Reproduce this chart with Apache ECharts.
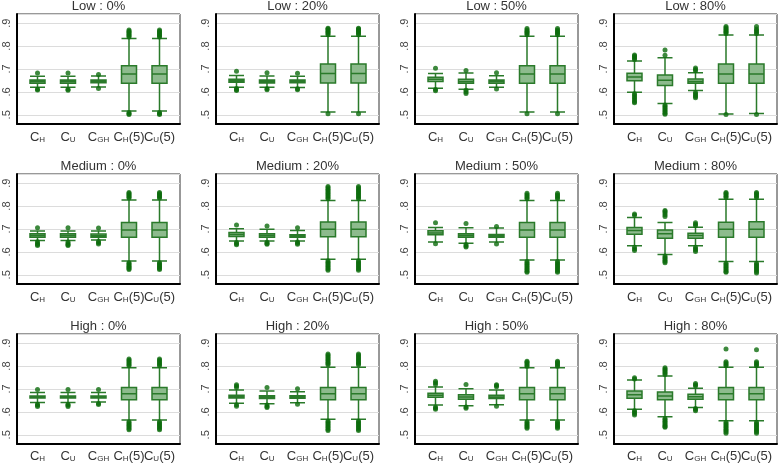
<!DOCTYPE html>
<html><head><meta charset="utf-8">
<script src="https://cdn.jsdelivr.net/npm/echarts@6/dist/echarts.min.js"></script>
<style>html,body{margin:0;padding:0;background:#fff}#c{width:778px;height:463px}</style>
</head><body><div id="c"></div>
<script>
// ---------------- data ----------------
const categories = ['C{s|H}', 'C{s|U}', 'C{s|GH}', 'C{s|H}(5)', 'C{s|U}(5)'];
const panelTitles = ['Low : 0%', 'Low : 20%', 'Low : 50%', 'Low : 80%',
  'Medium : 0%', 'Medium : 20%', 'Medium : 50%', 'Medium : 80%',
  'High : 0%', 'High : 20%', 'High : 50%', 'High : 80%'];
const yTicks = [0.5, 0.6, 0.7, 0.8, 0.9];

// box stats: [lower whisker, Q1, median, Q3, upper whisker]
const boxLow0 = [[0.620,0.638,0.645,0.652,0.668],[0.620,0.638,0.645,0.652,0.668],[0.622,0.640,0.646,0.652,0.670],[0.517,0.638,0.678,0.714,0.833],[0.517,0.638,0.678,0.714,0.833]];
const outLow0 = [[0.683,0.612,0.608],[0.683,0.612,0.607],[0.676,0.615],[0.840,0.845,0.850,0.855,0.860,0.865,0.870,0.510,0.505,0.502],[0.840,0.845,0.850,0.855,0.860,0.865,0.870,0.510,0.505,0.502]];

const boxLow20 = [[0.620,0.642,0.649,0.655,0.672],[0.620,0.639,0.646,0.652,0.670],[0.619,0.640,0.646,0.652,0.668],[0.512,0.639,0.680,0.722,0.843],[0.512,0.639,0.680,0.722,0.843]];
const outLow20 = [[0.690,0.615,0.610,0.606],[0.684,0.614,0.609],[0.681,0.614,0.610],[0.850,0.855,0.860,0.865,0.870,0.875,0.878,0.505],[0.850,0.855,0.860,0.865,0.870,0.875,0.878,0.505]];

const boxLow50 = [[0.616,0.645,0.655,0.664,0.680],[0.612,0.638,0.646,0.655,0.683],[0.620,0.638,0.645,0.652,0.671],[0.512,0.638,0.678,0.714,0.843],[0.512,0.638,0.678,0.714,0.843]];
const outLow50 = [[0.703,0.611,0.605],[0.694,0.607,0.600,0.593],[0.684,0.613],[0.850,0.855,0.860,0.865,0.870,0.877,0.505],[0.850,0.855,0.860,0.865,0.870,0.877,0.505]];

const boxLow80 = [[0.599,0.649,0.665,0.681,0.735],[0.549,0.628,0.651,0.674,0.749],[0.606,0.638,0.646,0.656,0.684],[0.504,0.638,0.678,0.722,0.848],[0.506,0.638,0.678,0.722,0.848]];
const outLow80 = [[0.742,0.747,0.752,0.757,0.761,0.592,0.585,0.578,0.571,0.564,0.557,0.553],[0.760,0.783,0.543,0.537,0.531,0.525,0.519,0.513,0.507,0.503],[0.692,0.698,0.704,0.598,0.592,0.586,0.580,0.575],[0.855,0.860,0.865,0.870,0.875,0.880,0.886,0.501],[0.855,0.862,0.868,0.875,0.885,0.502]];

const boxMed0 = [[0.650,0.664,0.672,0.679,0.691],[0.650,0.664,0.672,0.679,0.691],[0.652,0.664,0.671,0.678,0.691],[0.560,0.664,0.696,0.728,0.827],[0.560,0.664,0.696,0.728,0.827]];
const outMed0 = [[0.705,0.644,0.638,0.632,0.628],[0.705,0.643,0.637,0.631,0.628],[0.704,0.646,0.640,0.635],[0.835,0.840,0.845,0.850,0.855,0.859,0.553,0.548,0.543,0.538,0.533,0.528,0.523],[0.835,0.840,0.845,0.850,0.855,0.859,0.553,0.548,0.543,0.538,0.533,0.528,0.523]];

const boxMed20 = [[0.648,0.667,0.676,0.685,0.701],[0.648,0.664,0.672,0.679,0.699],[0.648,0.664,0.670,0.675,0.693],[0.568,0.666,0.699,0.731,0.824],[0.568,0.666,0.699,0.731,0.824]];
const outMed20 = [[0.717,0.641,0.636,0.631],[0.713,0.642,0.637,0.633],[0.705,0.643,0.638,0.633],[0.832,0.838,0.844,0.850,0.856,0.862,0.868,0.874,0.880,0.886,0.561,0.555,0.549,0.543,0.537,0.531,0.525,0.520],[0.832,0.838,0.844,0.850,0.856,0.862,0.868,0.874,0.880,0.886,0.561,0.555,0.549,0.543,0.537,0.531,0.525,0.520]];

const boxMed50 = [[0.643,0.675,0.683,0.692,0.707],[0.638,0.664,0.672,0.679,0.705],[0.643,0.664,0.670,0.676,0.704],[0.565,0.664,0.696,0.728,0.824],[0.565,0.664,0.696,0.728,0.824]];
const outMed50 = [[0.727,0.636],[0.724,0.632,0.626,0.621],[0.711,0.635],[0.832,0.838,0.844,0.850,0.856,0.558,0.552,0.546,0.540,0.534,0.528,0.522,0.516,0.511],[0.832,0.838,0.844,0.850,0.856,0.558,0.552,0.546,0.540,0.534,0.528,0.522,0.516,0.511]];

const boxMed80 = [[0.627,0.677,0.693,0.707,0.750],[0.589,0.660,0.679,0.696,0.728],[0.627,0.660,0.672,0.682,0.708],[0.558,0.664,0.699,0.730,0.830],[0.558,0.664,0.699,0.732,0.830]];
const outMed80 = [[0.760,0.766,0.620,0.613,0.606],[0.755,0.762,0.770,0.776,0.781,0.582,0.576,0.570,0.564,0.558,0.553],[0.715,0.721,0.727,0.620,0.614,0.608,0.602],[0.837,0.843,0.849,0.855,0.859,0.551,0.545,0.539,0.533,0.527,0.521,0.515,0.511],[0.837,0.843,0.849,0.855,0.859,0.551,0.545,0.539,0.533,0.527,0.521,0.515,0.508]];

const boxHigh0 = [[0.638,0.658,0.663,0.667,0.682],[0.638,0.658,0.663,0.667,0.682],[0.641,0.658,0.663,0.667,0.682],[0.561,0.650,0.677,0.704,0.791],[0.561,0.650,0.677,0.704,0.791]];
const outHigh0 = [[0.696,0.631,0.626,0.621],[0.696,0.631,0.626,0.621],[0.696,0.634,0.630],[0.800,0.806,0.812,0.818,0.824,0.830,0.554,0.548,0.542,0.536,0.530,0.524,0.518],[0.800,0.806,0.812,0.818,0.824,0.830,0.554,0.548,0.542,0.536,0.530,0.524,0.518]];

const boxHigh20 = [[0.635,0.658,0.664,0.670,0.693],[0.633,0.656,0.663,0.668,0.689],[0.637,0.657,0.663,0.668,0.686],[0.565,0.650,0.677,0.704,0.794],[0.565,0.650,0.677,0.704,0.794]];
const outHigh20 = [[0.704,0.711,0.717,0.628,0.622],[0.704,0.627,0.621,0.616],[0.699,0.631],[0.805,0.810,0.816,0.822,0.828,0.834,0.840,0.846,0.852,0.557,0.551,0.545,0.539,0.533,0.527,0.521,0.515],[0.805,0.810,0.816,0.822,0.828,0.834,0.840,0.846,0.852,0.557,0.551,0.545,0.539,0.533,0.527,0.521,0.515]];

const boxHigh50 = [[0.627,0.661,0.670,0.679,0.707],[0.624,0.653,0.663,0.672,0.699],[0.628,0.656,0.663,0.670,0.693],[0.561,0.650,0.677,0.704,0.791],[0.561,0.650,0.677,0.704,0.791]];
const outHigh50 = [[0.718,0.725,0.732,0.619,0.613,0.609],[0.718,0.618,0.613],[0.708,0.713,0.717,0.622],[0.798,0.804,0.810,0.816,0.820,0.554,0.548,0.542,0.536,0.530,0.525],[0.798,0.804,0.810,0.816,0.820,0.554,0.548,0.542,0.536,0.530,0.525]];

const boxHigh80 = [[0.609,0.657,0.673,0.689,0.737],[0.576,0.650,0.667,0.685,0.755],[0.616,0.653,0.664,0.675,0.701],[0.558,0.650,0.677,0.704,0.794],[0.558,0.650,0.677,0.704,0.794]];
const outHigh80 = [[0.742,0.747,0.602,0.596,0.590,0.583],[0.762,0.768,0.774,0.780,0.786,0.791,0.568,0.562,0.556,0.550,0.544,0.538,0.533,0.529],[0.711,0.716,0.722,0.612,0.607,0.602],[0.800,0.806,0.812,0.818,0.874,0.551,0.545,0.539,0.533,0.527,0.521,0.515,0.509,0.503],[0.800,0.806,0.812,0.818,0.871,0.551,0.545,0.539,0.533,0.527,0.521,0.515,0.509,0.503]];

const panelBoxes = [boxLow0, boxLow20, boxLow50, boxLow80, boxMed0, boxMed20, boxMed50, boxMed80, boxHigh0, boxHigh20, boxHigh50, boxHigh80];
const panelOutliers = [outLow0, outLow20, outLow50, outLow80, outMed0, outMed20, outMed50, outMed80, outHigh0, outHigh20, outHigh50, outHigh80];

// ---------------- layout / style ----------------
const colLeft = [17, 216, 415, 614];
const rowTop = [14, 174, 334];
const W = 163, H = 110, PAD = 20.5;
const Y_MIN = 0.46, Y_MAX = 0.94;
const FONT = 'Liberation Sans, Arial, sans-serif';

const grid = [], xAxis = [], yAxis = [], series = [], graphic = [];
panelTitles.forEach((t, p) => {
  const r = Math.floor(p / 4), c = p % 4;
  const L = colLeft[c], T = rowTop[r];
  const gFrame = grid.length;
  grid.push({left: L, top: T, width: W, height: H, show: true, borderColor: '#333', borderWidth: 1, backgroundColor: 'transparent'});
  const gData = grid.length;
  grid.push({left: L + PAD, top: T, width: W - 2 * PAD, height: H});
  // frame axes
  xAxis.push({gridIndex: gFrame, type: 'value', min: 0, max: 1,
    axisLine: {show: true, onZero: false, lineStyle: {color: '#000', width: 2}},
    axisTick: {show: false}, axisLabel: {show: false}, splitLine: {show: false}});
  yAxis.push({gridIndex: gFrame, type: 'value', min: Y_MIN, max: Y_MAX, splitNumber: 5,
    axisLine: {show: true, onZero: false, lineStyle: {color: '#000', width: 2}},
    axisTick: {show: false},
    axisLabel: {show: true, rotate: 90, margin: 5, fontSize: 11, fontFamily: FONT, color: '#444',
      formatter: v => yTicks.some(t => Math.abs(t - v) < 1e-6) ? ('.' + Math.round(v * 10)) : ''},
    splitLine: {show: true, lineStyle: {color: '#dcdcdc', width: 1}}});
  // data axes
  const xi = xAxis.length;
  xAxis.push({gridIndex: gData, type: 'category', data: categories, boundaryGap: false,
    axisLine: {show: false}, axisTick: {show: false}, splitLine: {show: false},
    axisLabel: {interval: 0, margin: 6, fontSize: 13, fontFamily: FONT, color: '#333', formatter: v => v,
      rich: {s: {fontSize: 8, fontFamily: FONT, color: '#333', verticalAlign: 'bottom', lineHeight: 14, padding: [3, 0, 0, 0]}}}});
  const yi = yAxis.length;
  yAxis.push({gridIndex: gData, type: 'value', min: Y_MIN, max: Y_MAX, show: false, splitLine: {show: false}});

  series.push({type: 'boxplot', xAxisIndex: xi, yAxisIndex: yi, data: panelBoxes[p],
    boxWidth: [15, 15],
    itemStyle: {color: '#8dbb8d', borderColor: '#2a7a2a', borderWidth: 1.5},
    emphasis: {disabled: true}, silent: true});
  const outs = [];
  panelOutliers[p].forEach((arr, i) => arr.forEach(v => outs.push([i, v])));
  series.push({type: 'scatter', xAxisIndex: xi, yAxisIndex: yi, data: outs, symbolSize: 5,
    itemStyle: {color: '#0d6b0d'}, silent: true});

  graphic.push({type: 'text', x: L + W / 2, y: T - 8, silent: true,
    style: {text: t, fontSize: 13, fontFamily: FONT, fill: '#333', align: 'center', verticalAlign: 'middle'}});
});

const chart = echarts.init(document.getElementById('c'));
chart.setOption({animation: false, backgroundColor: '#fff', grid, xAxis, yAxis, series, graphic});
</script></body></html>
